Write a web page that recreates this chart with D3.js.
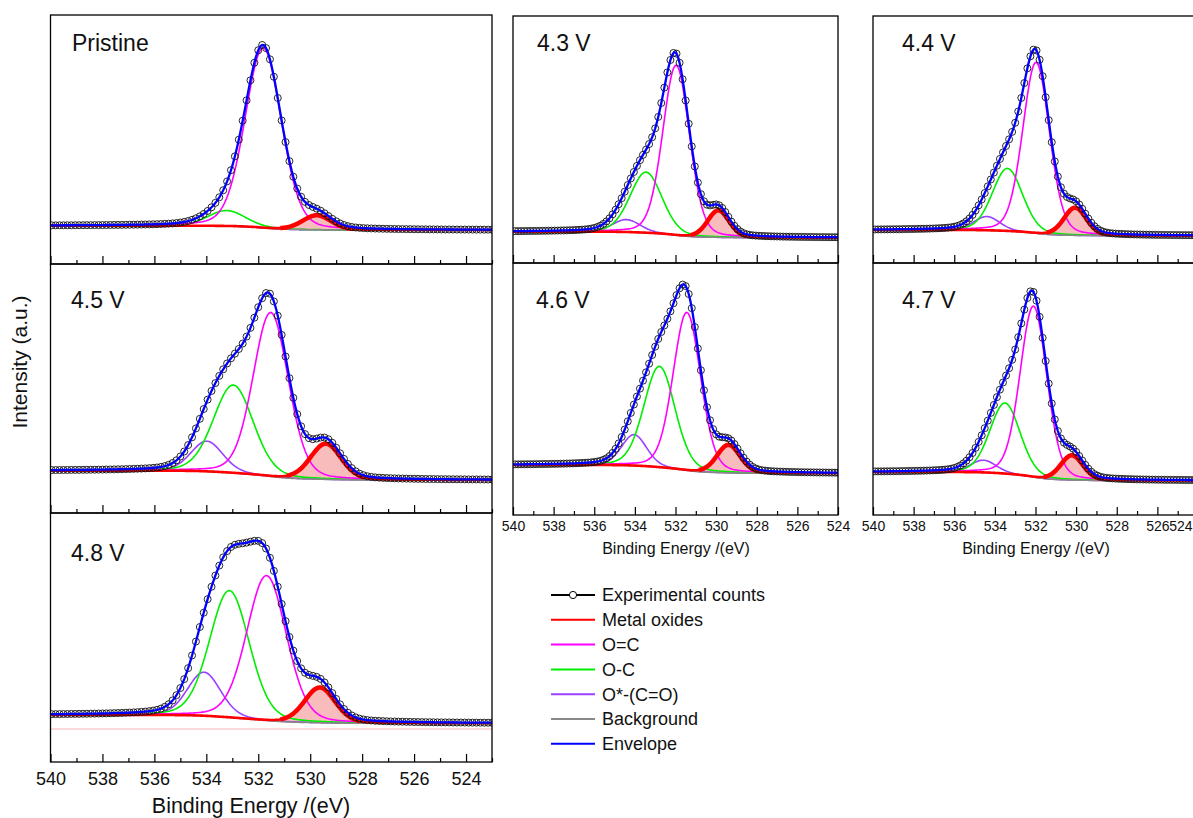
<!DOCTYPE html>
<html>
<head>
<meta charset="utf-8">
<script src="https://cdn.jsdelivr.net/npm/d3@7"></script>
<style>
  body { margin: 0; background: #fff; }
  text { font-family: "Liberation Sans", Arial, sans-serif; fill: #111; }
</style>
</head>
<body>
<script>
// panels, in reading order
const panels = ["Pristine", "4.3 V", "4.4 V", "4.5 V", "4.6 V", "4.7 V", "4.8 V"];

// fitted components: centre (eV), height (a.u.), FWHM (eV), one value per panel
const oxideCenter = [529.75, 529.89, 530.05, 529.40, 529.39, 530.21, 529.63];
const oxideHeight = [14.5, 27, 27.7, 35.7, 28, 24.7, 35.3];
const oxideWidth = [1.3, 1.25, 1.3, 1.4, 1.35, 1.3, 1.4];

const carbonylCenter = [531.81, 531.97, 531.97, 531.52, 531.44, 532.10, 531.68];
const carbonylHeight = [180, 170, 171, 164, 158, 171, 145];
const carbonylWidth = [1.65, 1.55, 1.55, 1.6, 1.6, 1.55, 1.8];

const etherCenter = [533.22, 533.45, 533.38, 532.96, 532.79, 533.50, 533.11];
const etherHeight = [15.5, 60.7, 62.7, 88, 101, 70.7, 127];
const etherWidth = [1.7, 1.85, 1.75, 1.8, 1.8, 1.75, 1.8];

const esterCenter = [534.40, 534.42, 534.40, 533.98, 534.04, 534.57, 534.09];
const esterHeight = [0, 12.5, 13.8, 30.3, 31, 12.3, 43.7];
const esterWidth = [1.5, 1.6, 1.5, 1.45, 1.45, 1.5, 1.5];

// Shirley background end levels (a.u.) at high and low binding energy
const bgHigh = [38.3, 31.3, 33, 42.3, 50, 43, 47];
const bgLow = [34, 25.3, 27.3, 33, 41.7, 34.5, 38.7];

// faint reference line seen only in the 4.8 V panel
const refLine = [null, null, null, null, null, null, 33];

// axis ticks
const majorTicks = [540, 538, 536, 534, 532, 530, 528, 526, 524];
const minorTicks = [539, 537, 535, 533, 531, 529, 527, 525, 523];

const legendLabels = ["Experimental counts", "Metal oxides", "O=C", "O-C", "O*-(C=O)", "Background", "Envelope"];

// ---- layout ----
const width = 1193, height = 818;
const cols = [
  { x0: 50.5, x1: 492, lo: 523, font: 18, pad: 10, titleX: 251, titleY: 813, titleFont: 21.5 },
  { x0: 513, x1: 838, lo: 524, font: 14, pad: 6, titleX: 676, titleY: 554, titleFont: 16 },
  { x0: 873, x1: 1198, lo: 524, font: 14, pad: 6, titleX: 1036, titleY: 554, titleFont: 16 },
];
const layout = [
  { col: 0, top: 15, bottom: 264, lx: 72, ly: 51, labels: false },
  { col: 1, top: 16, bottom: 263, lx: 537, ly: 51, labels: false },
  { col: 2, top: 16, bottom: 263, lx: 902, ly: 51, labels: false },
  { col: 0, top: 264, bottom: 513, lx: 71, ly: 308, labels: false },
  { col: 1, top: 263, bottom: 515, lx: 536, ly: 308, labels: true },
  { col: 2, top: 263, bottom: 515, lx: 902, ly: 308, labels: true },
  { col: 0, top: 513, bottom: 762, lx: 71, ly: 561, labels: true },
];

const components = [
  { key: "ester", color: "#9b40ff", center: esterCenter, h: esterHeight, w: esterWidth },
  { key: "ether", color: "#00ee00", center: etherCenter, h: etherHeight, w: etherWidth },
  { key: "carbonyl", color: "#ff00ff", center: carbonylCenter, h: carbonylHeight, w: carbonylWidth },
  { key: "oxide", color: "#ff0000", center: oxideCenter, h: oxideHeight, w: oxideWidth },
];

// pseudo-Voigt line shape (mostly Gaussian)
const mix = 0.18, ln4 = 4 * Math.LN2;
function pv(e, c, h, w) {
  const u = ((e - c) / w) ** 2;
  return h * ((1 - mix) * Math.exp(-ln4 * u) + mix / (1 + 4 * u));
}

const svg = d3.select("body").append("svg")
  .attr("width", width)
  .attr("height", height);

panels.forEach((name, i) => {
  const L = layout[i], C = cols[L.col];
  const x = d3.scaleLinear().domain([540, C.lo]).range([C.x0, C.x1]);
  const y = d3.scaleLinear().domain([0, 250]).range([L.bottom, L.bottom - 250]);

  // model on a fine grid, low BE -> high BE for the Shirley integral
  const grid = d3.range(C.lo, 540.0001, 0.05);
  const pts = grid.map(e => {
    const p = { e };
    components.forEach(c => { p[c.key] = pv(e, c.center[i], c.h[i], c.w[i]); });
    p.sum = d3.sum(components, c => p[c.key]);
    return p;
  });
  const cum = d3.cumsum(pts, p => p.sum);
  const total = cum[cum.length - 1];
  pts.forEach((p, k) => {
    p.bg = bgLow[i] + (bgHigh[i] - bgLow[i]) * cum[k] / total;
    p.env = p.bg + p.sum;
  });

  svg.append("clipPath").attr("id", "clip" + i)
    .append("rect")
    .attr("x", C.x0).attr("y", L.top)
    .attr("width", C.x1 - C.x0).attr("height", L.bottom - L.top);
  const g = svg.append("g").attr("clip-path", `url(#clip${i})`);

  if (refLine[i] != null) {
    g.append("line")
      .attr("x1", C.x0).attr("x2", C.x1)
      .attr("y1", y(refLine[i])).attr("y2", y(refLine[i]))
      .attr("stroke", "#f4b4b4").attr("stroke-width", 1);
  }

  // shaded metal oxide peak
  g.append("path")
    .datum(pts)
    .attr("fill", "#f8bcbc")
    .attr("d", d3.area().x(d => x(d.e)).y0(d => y(d.bg)).y1(d => y(d.bg + d.oxide)));

  // O*-(C=O), O-C, O=C
  components.filter(c => c.key !== "oxide").forEach(c => {
    g.append("path")
      .datum(pts)
      .attr("fill", "none")
      .attr("stroke", c.color)
      .attr("stroke-width", 1.6)
      .attr("d", d3.line().x(d => x(d.e)).y(d => y(d.bg + d[c.key])));
  });

  // background
  g.append("path")
    .datum(pts)
    .attr("fill", "none")
    .attr("stroke", "#888")
    .attr("stroke-width", 1.6)
    .attr("d", d3.line().x(d => x(d.e)).y(d => y(d.bg)));

  // metal oxides
  const oxLine = d3.line().x(d => x(d.e)).y(d => y(d.bg + d.oxide));
  g.append("path")
    .datum(pts)
    .attr("fill", "none")
    .attr("stroke", "#ff0000")
    .attr("stroke-width", 2.6)
    .attr("d", oxLine);
  g.append("path")
    .datum(pts.filter(d => d.oxide > 0.06 * oxideHeight[i]))
    .attr("fill", "none")
    .attr("stroke", "#ff0000")
    .attr("stroke-width", 4.5)
    .attr("d", oxLine);

  // experimental counts
  g.selectAll(".pt")
    .data(pts.filter((d, k) => k % 3 === 0))
    .join("circle")
    .attr("class", "pt")
    .attr("cx", d => x(d.e))
    .attr("cy", d => y(d.env))
    .attr("r", 3.5)
    .attr("fill", "none")
    .attr("stroke", "#111")
    .attr("stroke-width", 0.9);

  // envelope
  g.append("path")
    .datum(pts)
    .attr("fill", "none")
    .attr("stroke", "#0000ff")
    .attr("stroke-width", 2.3)
    .attr("d", d3.line().x(d => x(d.e)).y(d => y(d.env)));

  // frame
  svg.append("rect")
    .attr("x", C.x0).attr("y", L.top)
    .attr("width", C.x1 - C.x0).attr("height", L.bottom - L.top)
    .attr("fill", "none")
    .attr("stroke", "#000")
    .attr("stroke-width", 1.3);

  // inward ticks on the bottom axis
  const inside = v => v <= 540 && v >= C.lo;
  const major = svg.append("g")
    .attr("transform", `translate(0,${L.bottom})`)
    .call(d3.axisBottom(x).tickValues(majorTicks.filter(inside)).tickSizeInner(-8).tickSizeOuter(0)
      .tickPadding(C.pad).tickFormat(L.labels ? d3.format("d") : () => ""));
  const minor = svg.append("g")
    .attr("transform", `translate(0,${L.bottom})`)
    .call(d3.axisBottom(x).tickValues(minorTicks.filter(inside)).tickSizeInner(-4).tickSizeOuter(0).tickFormat(() => ""));
  [major, minor].forEach(a => {
    a.select(".domain").remove();
    a.selectAll("line").attr("stroke", "#000").attr("stroke-width", 1.2);
  });
  major.selectAll("text")
    .attr("font-size", C.font)
    .attr("font-family", "Liberation Sans, Arial, sans-serif")
    .attr("fill", "#111");
  // keep a label that would run past the page edge inside it
  major.selectAll(".tick")
    .filter(d => x(d) + 12 > width)
    .select("text")
    .attr("text-anchor", "end")
    .attr("x", d => width - 1 - x(d));

  if (L.labels) {
    svg.append("text")
      .attr("x", C.titleX).attr("y", C.titleY)
      .attr("text-anchor", "middle")
      .attr("font-size", C.titleFont)
      .text("Binding Energy /(eV)");
  }

  svg.append("text")
    .attr("x", L.lx).attr("y", L.ly)
    .attr("font-size", 23)
    .text(name);
});

svg.append("text")
  .attr("transform", "translate(27,362) rotate(-90)")
  .attr("text-anchor", "middle")
  .attr("font-size", 21)
  .text("Intensity (a.u.)");

// legend
const legendColors = ["#000", "#ff0000", "#ff00ff", "#00ee00", "#9b40ff", "#888", "#0000ff"];
const lg = svg.append("g").selectAll("g")
  .data(legendLabels)
  .join("g")
  .attr("transform", (d, k) => `translate(551,${595 + k * 24.8})`);
lg.append("line")
  .attr("x1", 0).attr("x2", 44)
  .attr("stroke", (d, k) => legendColors[k])
  .attr("stroke-width", 2);
lg.filter((d, k) => k === 0).append("circle")
  .attr("cx", 22).attr("r", 3.6)
  .attr("fill", "#fff").attr("stroke", "#000").attr("stroke-width", 1);
lg.append("text")
  .attr("x", 51).attr("dy", "0.36em")
  .attr("font-size", 18)
  .text(d => d);
</script>
</body>
</html>
